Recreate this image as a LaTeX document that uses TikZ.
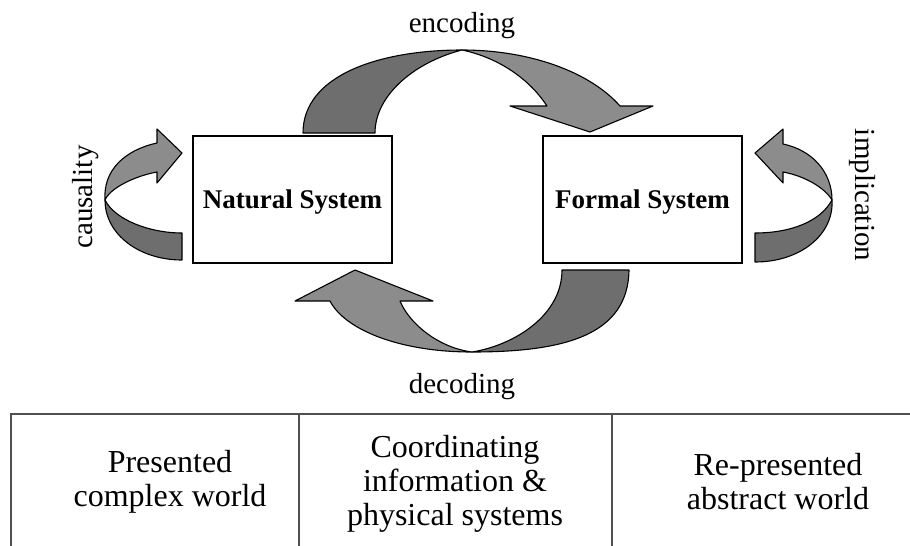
\documentclass[tikz,border=0pt]{standalone}
\usepackage{fontspec}
\setmainfont{Liberation Serif}
\definecolor{arrdark}{HTML}{6E6E6E}
\definecolor{arrlight}{HTML}{8C8C8C}
\definecolor{tblgray}{HTML}{505050}
\begin{document}
\begin{tikzpicture}[x=1pt, y=-1pt]
		\tikzset{sys/.style={draw=black, line width=1.5pt, fill=white, minimum width=199pt, minimum height=127pt, inner sep=0pt, text depth=0pt, font=\fontsize{27}{30}\selectfont\bfseries}};
		\tikzset{lbl/.style={inner sep=0pt, anchor=base, font=\fontsize{29}{32}\selectfont}};
		\tikzset{cell/.style={inner sep=0pt, align=center, font=\fontsize{32}{34}\selectfont}};
		\tikzset{back/.style={draw=black, line width=1.1pt, fill=arrdark, line join=round}};
		\tikzset{front/.style={draw=black, line width=1.1pt, fill=arrlight, line join=round}};
		\tikzset{rule/.style={draw=tblgray, line width=2pt}};

		\useasboundingbox (0,0) rectangle (910,546);

		% encoding
		\draw[back] (303,133) .. controls (303,75) and (380,50) .. (462,50)
			.. controls (415,62) and (375,95) .. (375,133) -- cycle;
		\draw[front] (462,50) .. controls (530,50) and (590,72) .. (620,106)
			-- (653,106) -- (590,132) -- (510,106) -- (547,106)
			.. controls (530,80) and (500,58) .. (462,50) -- cycle;

		% decoding
		\draw[back] (629,270) .. controls (628,335) and (565,352) .. (472,352)
			.. controls (515,345) and (562,315) .. (562,270) -- cycle;
		\draw[front] (472,352) .. controls (400,352) and (345,330) .. (330,301)
			-- (295,301) -- (355,270) -- (433,301) -- (400,301)
			.. controls (410,325) and (440,348) .. (472,352) -- cycle;

		% causality
		\draw[front] (105,200) .. controls (103,170) and (125,150) .. (157,143)
			-- (157,129) -- (182,153) -- (157,183) -- (157,172)
			.. controls (135,176) and (110,188) .. (105,200) -- cycle;
		\draw[back] (105,200) .. controls (105,235) and (140,260) .. (182,260)
			-- (182,233) .. controls (150,233) and (115,220) .. (105,200) -- cycle;

		% implication
		\draw[front] (832,200) .. controls (832,172) and (812,150) .. (783,144)
			-- (783,129) -- (755,153) -- (783,183) -- (783,172)
			.. controls (805,176) and (825,188) .. (832,200) -- cycle;
		\draw[back] (832,200) .. controls (834,235) and (800,262) .. (755,262)
			-- (755,233) .. controls (790,233) and (820,222) .. (832,200) -- cycle;

		\node[sys] (ns) at (292.5,199.5) {Natural System};
		\node[sys] (fs) at (642.5,199.5) {Formal System};

		\node[lbl] (enc) at (462,32) {encoding};
		\node[lbl] (dec) at (462,393) {decoding};
		\node[lbl, rotate=90] (cau) at (92,197) {causality};
		\node[lbl, rotate=-90] (imp) at (855,195) {implication};

		% table
		\draw[rule] (11,546) -- (11,414) -- (910,414);
		\draw[rule] (299,414) -- (299,546);
		\draw[rule] (612,414) -- (612,546);

		\node[cell] (pw) at (170,482) {Presented\\complex world};
		\node[cell] (cs) at (455,484) {Coordinating\\information \&\\physical systems};
		\node[cell] (rw) at (778,482) {Re-presented\\abstract world};

	\end{tikzpicture}
\end{document}
